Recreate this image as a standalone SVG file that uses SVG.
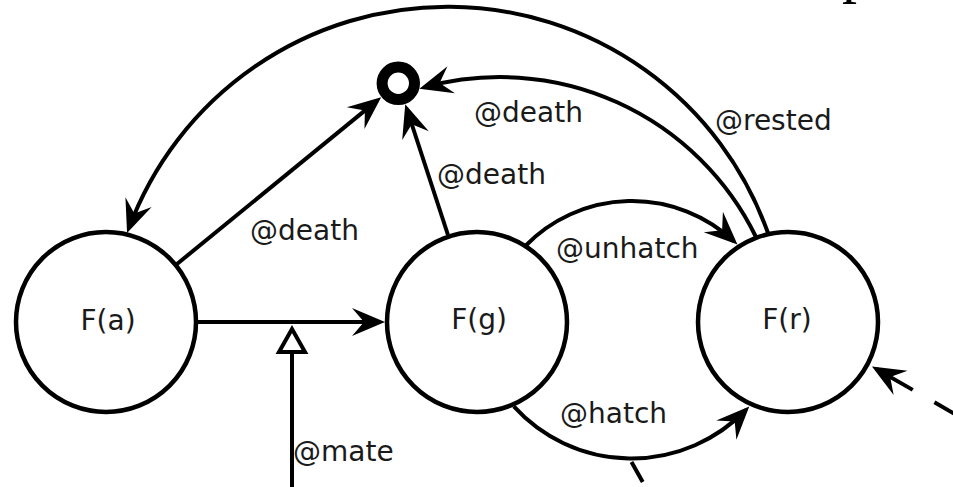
<svg xmlns="http://www.w3.org/2000/svg" width="953" height="487" viewBox="0 0 953 487">
  <style>
    .node circle { fill: #fff; stroke: #000; stroke-width: 4.5; }
    .node text, .label { font-family: "DejaVu Sans", Verdana, sans-serif; font-size: 28px; fill: #1a1a1a; }
    .node text { text-anchor: middle; }
    .edge { fill: none; stroke: #000; stroke-width: 4; }
    .arrow { marker-end: url(#arrowhead); }
    .dashed { stroke-dasharray: 42 25; }
  </style>
  <defs>
    <!-- filled concave arrowhead; tip sits 5 units ahead of the path end -->
    <marker id="arrowhead" viewBox="-30 -16 40 32" refX="0" refY="0" markerWidth="40" markerHeight="32"
            markerUnits="userSpaceOnUse" orient="auto-start-reverse" overflow="visible">
      <path d="M5,0 L-28,-14 L-16,0 L-28,14 Z" fill="#000"/>
    </marker>
  </defs>

  <rect width="953" height="487" fill="#fff"/>

  <!-- fragment of a serif glyph at the top edge -->
  <text x="842" y="-9" font-family="Liberation Serif, serif" font-size="60" fill="#000">p</text>

  <g id="node-fa" class="node">
    <circle cx="106" cy="322" r="90"/>
    <text x="108" y="330">F(a)</text>
  </g>
  <g id="node-fg" class="node">
    <circle cx="477" cy="322" r="90"/>
    <text x="479" y="329">F(g)</text>
  </g>
  <g id="node-fr" class="node">
    <circle cx="788" cy="322" r="90"/>
    <text x="787" y="329">F(r)</text>
  </g>
  <g id="node-end">
    <circle cx="398.3" cy="83.3" r="16.2" fill="#fff" stroke="#000" stroke-width="11"/>
  </g>

  <g id="connectors">
    <!-- F(a) -> F(g) -->
    <path class="edge arrow" d="M196,322 L380,322"/>
    <!-- @mate trigger -->
    <path class="edge" d="M292,487 L292,352"/>
    <polygon points="292,329 279,352 305,352" fill="#fff" stroke="#000" stroke-width="4"/>
    <text class="label" x="293" y="461">@mate</text>

    <!-- F(a) -> end -->
    <path class="edge arrow" d="M177,264 L377.3,100.4"/>
    <text class="label" x="250" y="240">@death</text>

    <!-- F(g) -> end -->
    <path class="edge arrow" d="M448,235 L406.8,109"/>
    <text class="label" x="437" y="184">@death</text>

    <!-- F(r) -> end -->
    <path class="edge arrow" d="M756,237 A285,285 0 0 0 424.2,87.3"/>
    <text class="label" x="474" y="122">@death</text>

    <!-- F(r) -> F(a) -->
    <path class="edge arrow" d="M768,233 A340,340 0 0 0 128.8,228.4"/>
    <text class="label" x="715" y="130">@rested</text>

    <!-- F(g) -> F(r) over the top -->
    <path class="edge arrow" d="M524.8,246.5 A149,149 0 0 1 733.8,241.2"/>
    <text class="label" x="556" y="258">@unhatch</text>

    <!-- F(g) -> F(r) underneath -->
    <path class="edge arrow" d="M513.8,406.4 A159,159 0 0 0 745.8,410"/>
    <text class="label" x="560" y="423">@hatch</text>

    <!-- dashed links from outside -->
    <path class="edge" d="M631.5,462 L660,513" stroke-dasharray="23 12"/>
    <path class="edge dashed" d="M876.3,369 L995,437" marker-start="url(#arrowhead)"/>
  </g>
</svg>
